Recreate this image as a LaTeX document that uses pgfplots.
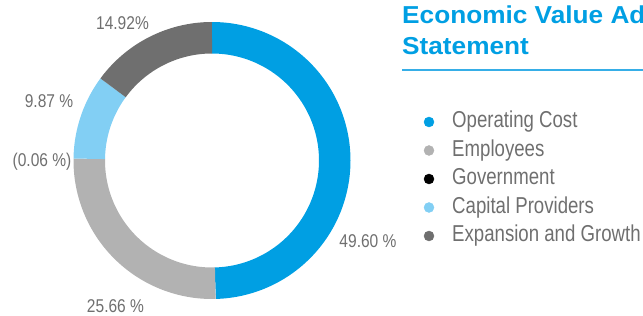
\documentclass[border=0pt]{standalone}
\usepackage{graphicx}
\usepackage{fontspec}
\setmainfont{Liberation Sans}
\usepackage{pgfplots}
\usepackage{pgfplotstable}
\pgfplotsset{compat=1.18}
\definecolor{cOp}{HTML}{009FE3}
\definecolor{cEmp}{HTML}{B2B2B2}
\definecolor{cGov}{HTML}{000000}
\definecolor{cCap}{HTML}{82CFF4}
\definecolor{cExp}{HTML}{6F6F6F}
\definecolor{txt}{HTML}{6F6F6F}
\definecolor{ttl}{HTML}{009FE3}
\definecolor{ttlline}{HTML}{36AEE7}
% share of each item (per cent); Government is negative
\pgfplotstableread{
name value col
Operating 49.60 cOp
Employees 25.66 cEmp
Government -0.06 cGov
Capital 9.87 cCap
Expansion 14.92 cExp
}\slices
\begin{document}
\begin{tikzpicture}
\path[use as bounding box] (0,0) rectangle (643pt,316pt);
\clip (0,0) rectangle (643pt,316pt);
\begin{axis}[at={(0,0)}, anchor=origin, x=1pt, y=1pt, scale only axis,
  xmin=0, xmax=643, ymin=0, ymax=316, hide axis, clip=false]
% total of the positive shares
\def\total{0}
\pgfplotsforeachungrouped \i in {0,...,4}{%
  \pgfplotstablegetelem{\i}{value}\of\slices \let\v\pgfplotsretval
  \pgfmathsetmacro\total{\total+max(\v,0)}%
}
\def\cur{90}
\pgfplotsforeachungrouped \i in {0,...,4}{%
  \pgfplotstablegetelem{\i}{value}\of\slices \let\v\pgfplotsretval
  \pgfplotstablegetelem{\i}{col}\of\slices \let\c\pgfplotsretval
  \pgfmathsetmacro\vv{max(\v,0)}%
  \ifdim\vv pt>0pt
    \pgfmathsetmacro\nxt{\cur-\vv/\total*360}%
    \edef\doplot{\noexpand\addplot[no marks, line width=31.5pt, color=\c, domain=\nxt:\cur, samples=120] ({212+122.75*cos(x)},{155.5+122.75*sin(x)});}%
    \doplot
    \let\cur\nxt
  \fi
}
% percentage labels
\tikzset{plab/.style={anchor=base, inner sep=0pt, text=txt, font=\fontsize{18.5}{20}\selectfont}}
\node[plab] at (axis cs:122.5,286) {\scalebox{0.84}[1]{14.92\%}};
\node[plab] at (axis cs:49,208) {\scalebox{0.84}[1]{9.87 \%}};
\node[plab] at (axis cs:42,149) {\scalebox{0.84}[1]{(0.06 \%)}};
\node[plab] at (axis cs:115.5,3) {\scalebox{0.84}[1]{25.66 \%}};
\node[plab] at (axis cs:368,68) {\scalebox{0.84}[1]{49.60 \%}};
% title
\tikzset{tlab/.style={anchor=base west, inner sep=0pt, text=ttl, font=\fontsize{24.5}{30}\selectfont\bfseries}}
\node[tlab] at (axis cs:402,292) {\scalebox{1.07}[1]{Economic Value Added}};
\node[tlab] at (axis cs:402,261) {\scalebox{1.07}[1]{Statement}};
\draw[ttlline, line width=2pt] (axis cs:402,246) -- (axis cs:650,246);
% legend
\addplot[only marks, mark=*, mark size=5pt, color=cOp, mark options={draw=none}] coordinates {(429,194)};
\addplot[only marks, mark=*, mark size=5pt, color=cEmp, mark options={draw=none}] coordinates {(429,165.5)};
\addplot[only marks, mark=*, mark size=5pt, color=cGov, mark options={draw=none}] coordinates {(429,137)};
\addplot[only marks, mark=*, mark size=5pt, color=cCap, mark options={draw=none}] coordinates {(429,108.5)};
\addplot[only marks, mark=*, mark size=5pt, color=cExp, mark options={draw=none}] coordinates {(429,80)};
\tikzset{llab/.style={anchor=base west, inner sep=0pt, text=txt, font=\fontsize{23}{25}\selectfont}}
\node[llab] at (axis cs:452,188.3) {\scalebox{0.81}[1]{Operating Cost}};
\node[llab] at (axis cs:452,159.8) {\scalebox{0.81}[1]{Employees}};
\node[llab] at (axis cs:452,131.3) {\scalebox{0.81}[1]{Government}};
\node[llab] at (axis cs:452,102.8) {\scalebox{0.81}[1]{Capital Providers}};
\node[llab] at (axis cs:452,74.3) {\scalebox{0.81}[1]{Expansion and Growth}};
\end{axis}
\end{tikzpicture}
\end{document}
